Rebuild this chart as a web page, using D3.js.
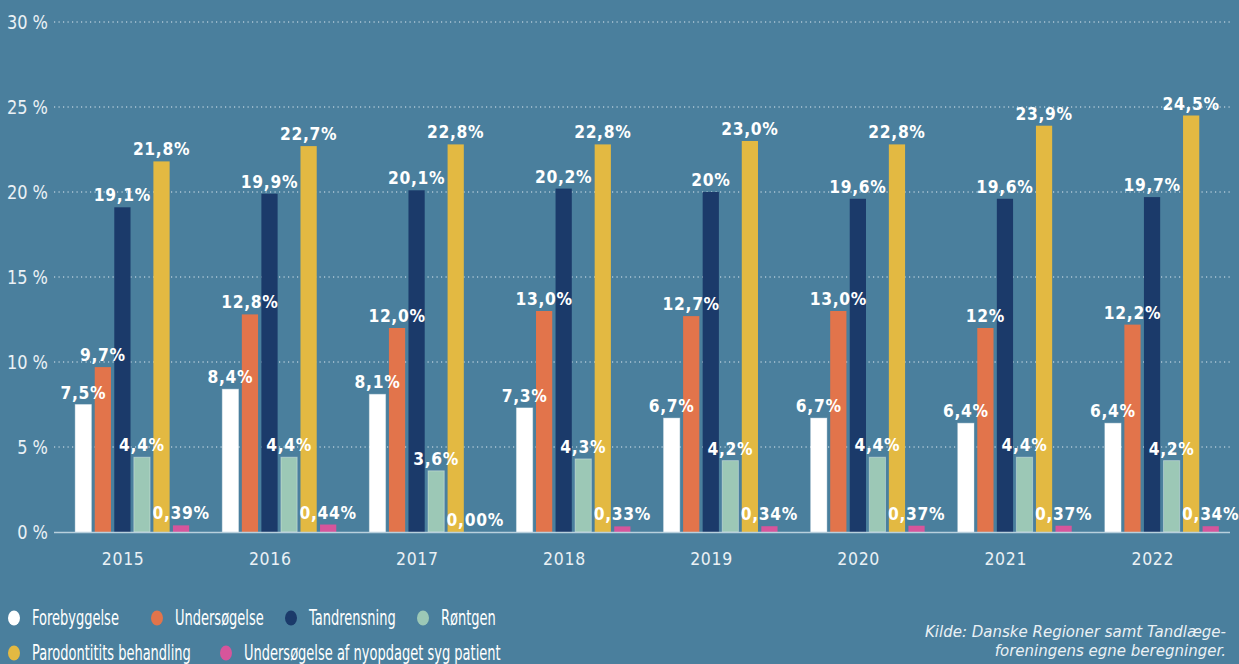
<!DOCTYPE html>
<html>
<head>
<meta charset="utf-8">
<script src="https://cdn.jsdelivr.net/npm/d3@7"></script>
<style>
  html, body { margin: 0; padding: 0; background: #4a7f9d; }
  svg { display: block; }
  text { font-family: "DejaVu Sans", sans-serif; fill: #fff; }
</style>
</head>
<body>
<svg id="chart"></svg>
<script>
// data
const years = ["2015", "2016", "2017", "2018", "2019", "2020", "2021", "2022"];
const seriesNames = ["Forebyggelse", "Undersøgelse", "Tandrensning", "Røntgen",
  "Parodontitits behandling", "Undersøgelse af nyopdaget syg patient"];
const forebyggelse = [7.5, 8.4, 8.1, 7.3, 6.7, 6.7, 6.4, 6.4];
const undersogelse = [9.7, 12.8, 12.0, 13.0, 12.7, 13.0, 12.0, 12.2];
const tandrensning = [19.1, 19.9, 20.1, 20.2, 20.0, 19.6, 19.6, 19.7];
const rontgen = [4.4, 4.4, 3.6, 4.3, 4.2, 4.4, 4.4, 4.2];
const parodontitis = [21.8, 22.7, 22.8, 22.8, 23.0, 22.8, 23.9, 24.5];
const sygPatient = [0.39, 0.44, 0.00, 0.33, 0.34, 0.37, 0.37, 0.34];
// labels as printed (the source mixes decimals)
const labelsForebyggelse = ["7,5%", "8,4%", "8,1%", "7,3%", "6,7%", "6,7%", "6,4%", "6,4%"];
const labelsUndersogelse = ["9,7%", "12,8%", "12,0%", "13,0%", "12,7%", "13,0%", "12%", "12,2%"];
const labelsTandrensning = ["19,1%", "19,9%", "20,1%", "20,2%", "20%", "19,6%", "19,6%", "19,7%"];
const labelsRontgen = ["4,4%", "4,4%", "3,6%", "4,3%", "4,2%", "4,4%", "4,4%", "4,2%"];
const labelsParodontitis = ["21,8%", "22,7%", "22,8%", "22,8%", "23,0%", "22,8%", "23,9%", "24,5%"];
const labelsSygPatient = ["0,39%", "0,44%", "0,00%", "0,33%", "0,34%", "0,37%", "0,37%", "0,34%"];
const yTicks = [0, 5, 10, 15, 20, 25, 30];
const colors = ["#ffffff", "#e2744b", "#1b3a6a", "#9cc8b6", "#e3b942", "#d6559b"];
const sourceLines = ["Kilde: Danske Regioner samt Tandlæge-", "foreningens egne beregninger."];

const seriesValues = [forebyggelse, undersogelse, tandrensning, rontgen, parodontitis, sygPatient];
const seriesLabels = [labelsForebyggelse, labelsUndersogelse, labelsTandrensning,
  labelsRontgen, labelsParodontitis, labelsSygPatient];

const W = 1239, H = 664;
const svg = d3.select("#chart").attr("width", W).attr("height", H);

const plotLeft = 54, plotRight = 1230, yTop = 22, yBottom = 532;

// the original uses a narrow typeface; squeeze DejaVu horizontally to match
function narrowText(sel, x, y, sx) {
  return sel.append("g")
    .attr("transform", `translate(${x},${y}) scale(${sx},1)`)
    .append("text");
}

const y = d3.scaleLinear().domain([0, 30]).range([yBottom, yTop]);
const x0 = d3.scaleBand().domain(years).range([59, 1235]).paddingInner(0.225).paddingOuter(0.11);
const x1 = d3.scaleBand().domain(d3.range(6)).range([0, x0.bandwidth()]).paddingInner(0.17);

// gridlines + y labels
const grid = svg.append("g");
grid.selectAll("line")
  .data(yTicks.filter(t => t > 0))
  .join("line")
  .attr("x1", plotLeft).attr("x2", plotRight)
  .attr("y1", d => y(d)).attr("y2", d => y(d))
  .attr("stroke", "#dfeaf1").attr("stroke-width", 1.2)
  .attr("stroke-dasharray", "1.2,3.3");

yTicks.forEach(t => {
  narrowText(grid, 48, y(t), 0.83)
    .attr("dy", "0.36em")
    .attr("text-anchor", "end")
    .attr("font-size", 19.5)
    .style("fill", "#eaf1f5")
    .text(t + " %");
});

// bars
const groups = svg.append("g").selectAll("g")
  .data(years)
  .join("g")
  .attr("transform", d => `translate(${x0(d)},0)`);

groups.each(function(yr, i) {
  const g = d3.select(this);
  const rows = seriesValues.map((vals, s) => ({ s, v: vals[i], label: seriesLabels[s][i] }));
  g.selectAll("rect")
    .data(rows)
    .join("rect")
    .attr("x", d => x1(d.s))
    .attr("y", d => y(d.v))
    .attr("width", x1.bandwidth())
    .attr("height", d => yBottom - y(d.v))
    .attr("fill", d => colors[d.s])
    .attr("stroke", d => d.s === 0 || d.s === 3 ? "rgba(255,255,255,0.35)" : "none")
    .attr("stroke-width", 1);
  rows.forEach(d => {
    narrowText(g, x1(d.s) + x1.bandwidth() / 2, y(d.v) - 6, 0.84)
      .attr("text-anchor", "middle")
      .attr("font-size", 18.5)
      .attr("font-weight", "bold")
      .attr("letter-spacing", 0.8)
      .text(d.label);
  });
});

// baseline
svg.append("line")
  .attr("x1", plotLeft).attr("x2", plotRight)
  .attr("y1", yBottom + 0.5).attr("y2", yBottom + 0.5)
  .attr("stroke", "#b9d0dd").attr("stroke-width", 1.5);

// x axis labels
const xAxis = svg.append("g");
years.forEach(yr => {
  narrowText(xAxis, x0(yr) + x0.bandwidth() / 2 - 9, 565, 0.85)
    .attr("text-anchor", "middle")
    .attr("font-size", 18.5)
    .attr("letter-spacing", 0.8)
    .style("fill", "#eaf1f5")
    .text(yr);
});

// legend
const legendPos = [[14, 618], [157, 618], [291, 618], [423, 618], [14, 653], [226, 653]];
const legend = svg.append("g").selectAll("g")
  .data(seriesNames)
  .join("g")
  .attr("transform", (d, i) => `translate(${legendPos[i][0]},${legendPos[i][1]})`);
legend.append("ellipse")
  .attr("rx", 6).attr("ry", 7.5)
  .attr("fill", (d, i) => colors[i]);
legend.each(function(d) {
  narrowText(d3.select(this), 18, 0, 0.635)
    .attr("dy", "0.36em")
    .attr("font-size", 20.5)
    .text(d);
});

// source
svg.append("g").selectAll("text")
  .data(sourceLines)
  .join("text")
  .attr("x", 1226)
  .attr("y", (d, i) => 637 + i * 19)
  .attr("text-anchor", "end")
  .attr("font-size", 15)
  .attr("font-style", "italic")
  .style("fill", "#eaf1f5")
  .text(d => d);
</script>
</body>
</html>
